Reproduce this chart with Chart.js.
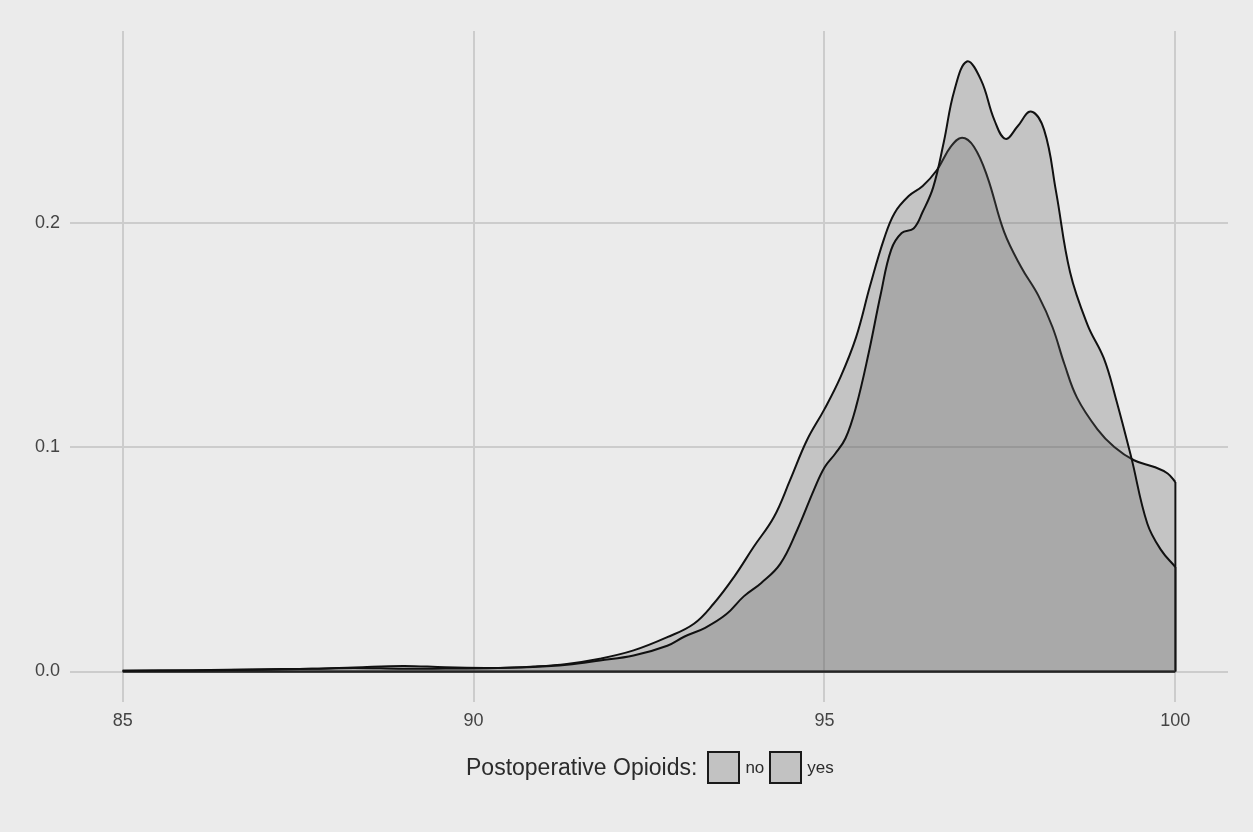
<!DOCTYPE html>
<html>
<head>
<meta charset="utf-8">
<script src="https://cdn.jsdelivr.net/npm/chart.js@4/dist/chart.umd.min.js"></script>
<style>
  body { margin: 0; background: #EBEBEB; font-family: "Liberation Sans", Arial, sans-serif; }
  #wrap { position: relative; width: 1253px; height: 832px; }
  #legend { position: absolute; left: 466px; top: 751px; display: flex; align-items: center; color: #2b2b2b; }
  #legend .title { font-size: 23px; margin-right: 10px; }
  #legend .box { width: 29px; height: 29px; border: 2px solid #1a1a1a; background: #C2C2C2; }
  #legend .lab { font-size: 17px; margin: 0 5px 0 5px; }
</style>
</head>
<body>
<div id="wrap">
  <canvas id="chart" width="1253" height="832"></canvas>
  <div id="legend">
    <span class="title">Postoperative Opioids:</span>
    <span class="box"></span><span class="lab">no</span>
    <span class="box"></span><span class="lab">yes</span>
  </div>
</div>
<script>
// density curves
const noX = [85, 86, 87, 87.7, 88.3, 89, 89.6, 90.2, 90.85, 91.33, 91.8, 92.28, 92.76, 93.0, 93.3, 93.6,
  93.85, 94.1, 94.37, 94.61, 94.85, 95.0, 95.15, 95.3, 95.45, 95.63, 95.8, 95.95, 96.1,
  96.27, 96.4, 96.55, 96.7, 96.85, 97.03, 97.23, 97.42, 97.58, 97.75, 97.94, 98.13, 98.3, 98.5,
  98.75, 98.98, 99.15, 99.37, 99.6, 99.8, 100];
const noY = [0.0003, 0.0005, 0.0008, 0.0012, 0.0016, 0.0012, 0.0013, 0.0015, 0.002, 0.003, 0.0049, 0.0071, 0.0115, 0.0155, 0.0195, 0.0255,
  0.0335, 0.0395, 0.048, 0.063, 0.081, 0.091, 0.097, 0.104, 0.118, 0.142, 0.168, 0.188, 0.1955,
  0.1975, 0.205, 0.216, 0.236, 0.259, 0.272, 0.2638, 0.246, 0.2375, 0.243, 0.2497, 0.2415, 0.214, 0.178,
  0.1545, 0.1397, 0.122, 0.0957, 0.066, 0.054, 0.0466];

const yesX = [85, 86, 87, 87.7, 88.3, 89, 89.6, 90.38, 90.85, 91.33, 91.8, 92.28, 92.76, 93.14, 93.42, 93.71, 93.99,
  94.28, 94.51, 94.75, 95.0, 95.23, 95.45, 95.65, 95.85, 96.0, 96.2, 96.4, 96.6, 96.8, 96.96, 97.13,
  97.32, 97.56, 97.8, 98.05, 98.25, 98.42, 98.6, 98.89, 99.13, 99.41, 99.7, 99.89, 100];
const yesY = [0.0003, 0.0006, 0.001, 0.0012, 0.0018, 0.0025, 0.0019, 0.0016, 0.0022, 0.0034, 0.0057, 0.0094, 0.0153, 0.0213, 0.0302, 0.0421, 0.0555,
  0.0689, 0.0853, 0.1031, 0.117, 0.1314, 0.149, 0.172, 0.193, 0.2045, 0.212, 0.2165, 0.2235, 0.234, 0.238, 0.234,
  0.2207, 0.196, 0.1805, 0.1675, 0.1535, 0.137, 0.122, 0.108, 0.1001, 0.0942, 0.0912, 0.0883, 0.0845];

const xTicks = [85, 90, 95, 100];
const yTicks = [0, 0.1, 0.2];

const fillCol = 'rgba(97,97,97,0.28)';

function pts(xs, ys) {
  return xs.map((x, i) => ({x: x, y: ys[i]}));
}

function curve(label, xs, ys) {
  return {
    label: label,
    data: pts(xs, ys),
    borderColor: '#111',
    borderWidth: 2,
    backgroundColor: fillCol,
    fill: 'origin',
    pointRadius: 0,
    tension: 0.4
  };
}

// closing edges of the density polygons
function edge(xs, ys) {
  const lastX = xs[xs.length - 1];
  return {
    label: '',
    data: [{x: lastX, y: 0}, {x: lastX, y: ys[ys.length - 1]}],
    borderColor: '#111',
    borderWidth: 2,
    pointRadius: 0,
    fill: false
  };
}

const baseline = {
  label: '',
  data: [{x: xTicks[0], y: 0}, {x: xTicks[xTicks.length - 1], y: 0}],
  borderColor: '#111',
  borderWidth: 2.5,
  pointRadius: 0,
  fill: false
};

new Chart(document.getElementById('chart').getContext('2d'), {
  type: 'line',
  data: {
    datasets: [curve('no', noX, noY), curve('yes', yesX, yesY), edge(noX, noY), edge(yesX, yesY), baseline]
  },
  options: {
    responsive: false,
    animation: false,
    layout: { padding: { left: 0, right: 25, top: 31, bottom: 90 } },
    plugins: { legend: { display: false }, tooltip: { enabled: false } },
    scales: {
      x: {
        type: 'linear',
        min: 84.25,
        max: 100.75,
        afterBuildTicks: s => { s.ticks = xTicks.map(v => ({value: v})); },
        afterFit: s => { s.height = 40; },
        grid: { color: '#CCCCCC', lineWidth: 2, drawTicks: false },
        border: { display: false },
        ticks: { color: '#444', font: { family: '"Liberation Sans", Arial', size: 18 }, padding: 8,
                 callback: v => String(v) }
      },
      y: {
        min: -0.0136,
        max: 0.2856,
        afterBuildTicks: s => { s.ticks = yTicks.map(v => ({value: v})); },
        afterFit: s => { s.width = 70; },
        grid: { color: '#CCCCCC', lineWidth: 2, drawTicks: false },
        border: { display: false },
        ticks: { color: '#444', font: { family: '"Liberation Sans", Arial', size: 18 }, padding: 10,
                 callback: v => v.toFixed(1) }
      }
    }
  }
});
</script>
</body>
</html>
